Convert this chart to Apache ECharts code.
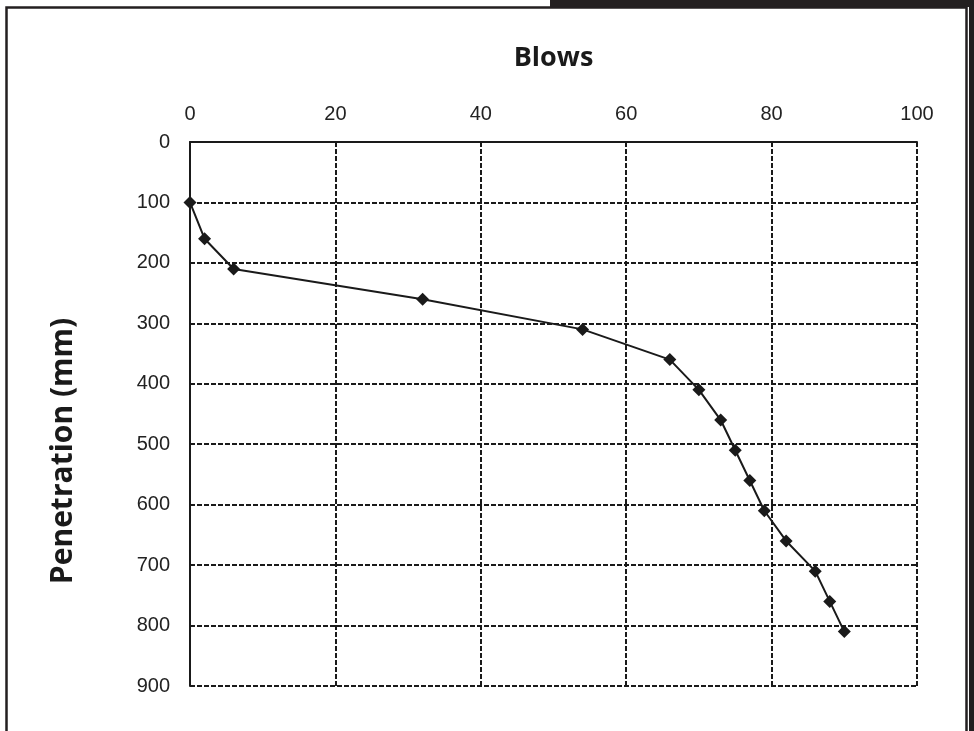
<!DOCTYPE html>
<html>
<head>
<meta charset="utf-8">
<title>Blows vs Penetration</title>
<script src="https://cdn.jsdelivr.net/npm/echarts@6/dist/echarts.min.js"></script>
<style>
  html, body { margin: 0; padding: 0; background: #fff; }
  #chart { width: 974px; height: 731px; }
</style>
</head>
<body>
<div id="chart"></div>
<script>
// blows counted at each penetration depth
var blows = [0, 2, 6, 32, 54, 66, 70, 73, 75, 77, 79, 82, 86, 88, 90];
var penetration = [100, 160, 210, 260, 310, 360, 410, 460, 510, 560, 610, 660, 710, 760, 810];

var points = [];
for (var i = 0; i < blows.length; i++) {
	points.push([blows[i], penetration[i]]);
}

var chart = echarts.init(document.getElementById('chart'));

var dashed = {
	show: true,
	lineStyle: { color: '#1a1a1a', width: 2, type: [5, 2] }
};

var option = {
	animation: false,
	backgroundColor: '#fff',
	// page frame round the chart + y axis title
	graphic: [
		{ type: 'rect', shape: { x: 550, y: 0, width: 424, height: 7 }, style: { fill: '#231f20' } },
		{ type: 'rect', shape: { x: 969, y: 0, width: 5, height: 731 }, style: { fill: '#231f20' } },
		{ type: 'rect', shape: { x: 6.5, y: 7.5, width: 960, height: 740 }, style: { fill: 'none', stroke: '#231f20', lineWidth: 2.5 } },
		{
			type: 'text',
			x: 63,
			y: 451,
			rotation: Math.PI / 2,
			style: {
				text: 'Penetration (mm)',
				fontFamily: 'Open Sans',
				fontWeight: 'bold',
				fontSize: 30,
				fill: '#1a1a1a',
				align: 'center',
				verticalAlign: 'middle'
			}
		}
	],
	grid: { left: 190, top: 142, width: 727, height: 544, containLabel: false },
	xAxis: {
		type: 'value',
		position: 'top',
		min: 0,
		max: 100,
		interval: 20,
		name: 'Blows',
		nameLocation: 'middle',
		nameGap: 70,
		nameTextStyle: { fontFamily: 'Open Sans', fontWeight: 'bold', fontSize: 27, color: '#1a1a1a' },
		axisLine: { show: true, onZero: false, lineStyle: { color: '#1a1a1a', width: 2 } },
		axisTick: { show: false },
		axisLabel: { margin: 18, fontFamily: 'Liberation Sans', fontSize: 20, color: '#222' },
		splitLine: dashed
	},
	yAxis: {
		type: 'value',
		inverse: true,
		min: 0,
		max: 900,
		interval: 100,
		axisLine: { show: true, onZero: false, lineStyle: { color: '#1a1a1a', width: 2 } },
		axisTick: { show: false },
		axisLabel: { margin: 20, fontFamily: 'Liberation Sans', fontSize: 20, color: '#222' },
		splitLine: dashed
	},
	series: [{
		type: 'line',
		data: points,
		symbol: 'diamond',
		symbolSize: 13,
		lineStyle: { color: '#1a1a1a', width: 2 },
		itemStyle: { color: '#1a1a1a' }
	}]
};

chart.setOption(option);
</script>
</body>
</html>
